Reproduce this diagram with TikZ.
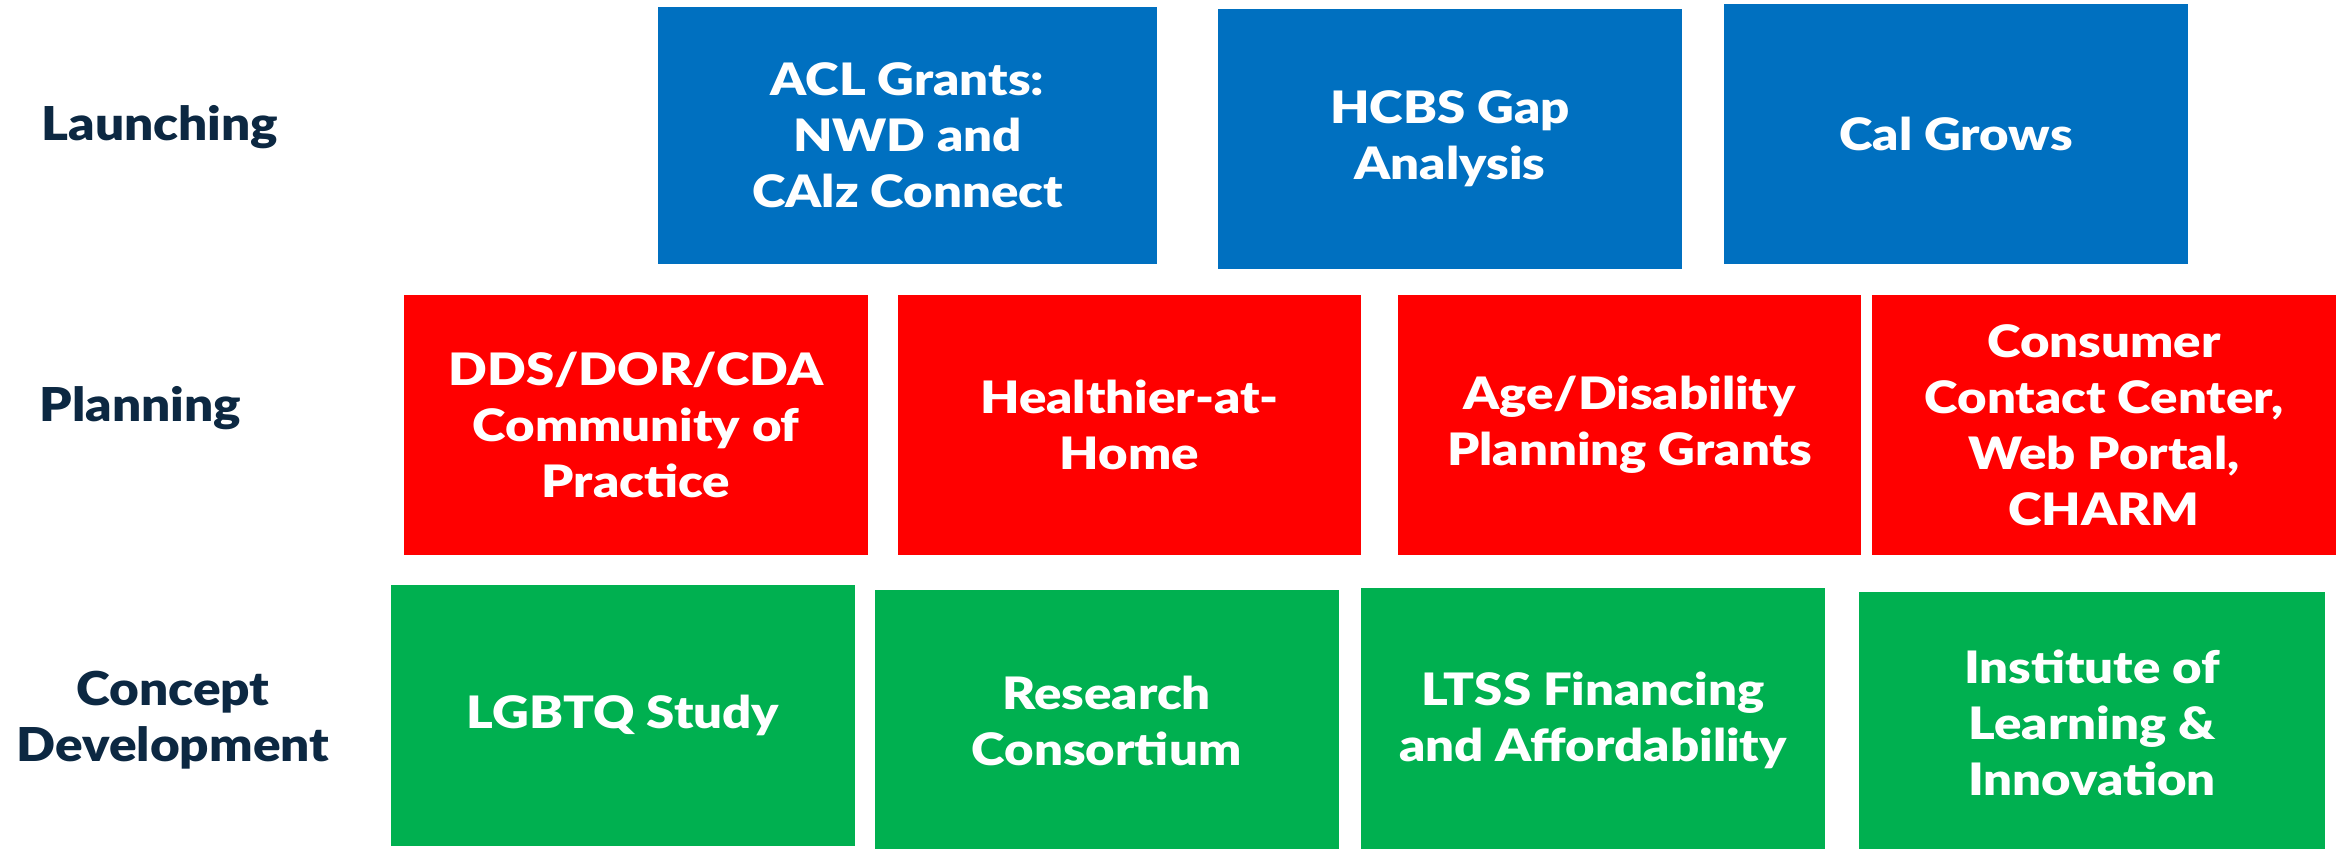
\documentclass[tikz,border=0pt]{standalone}
\usepackage{fontspec}
\setmainfont{Lato}
\IfFontExistsTF{Lato Black}{%
	\newfontfamily\cardfont{Lato Black}[FakeStretch=1.14]
	\newfontfamily\stagefont{Lato Black}[FakeStretch=1.1]
}{%
	\newfontfamily\cardfont{Lato}[FakeStretch=1.16,FakeBold=1.2]
	\newfontfamily\stagefont{Lato}[FakeStretch=1.12,FakeBold=1.2]
}

\definecolor{cardblue}{RGB}{0,112,192}
\definecolor{cardred}{RGB}{255,0,0}
\definecolor{cardgreen}{RGB}{0,176,80}
\definecolor{stagenavy}{RGB}{12,40,66}

\tikzset{every picture/.style={line width=0.75pt}}
\tikzset{
	card/.style={draw=none, inner sep=0pt, align=center, text=white,
		minimum width=348pt, minimum height=195pt,
		font=\fontsize{33.5}{42}\cardfont},
	bluecard/.style={card, fill=cardblue},
	redcard/.style={card, fill=cardred},
	greencard/.style={card, fill=cardgreen},
	stage/.style={inner sep=0pt, text=stagenavy, align=center,
		font=\fontsize{35}{42.5}\stagefont}
}

\begin{document}
\begin{tikzpicture}[x=0.75pt,y=0.75pt,yscale=-1,xscale=1]
	%set diagram left start at 0, and has height of 849
	\useasboundingbox (0,0) rectangle (2344,849);
	
	%Stages
	\node [stage, anchor=base west] (launching) at (41,140) {Launching};
	\node [stage, anchor=base west] (planning) at (39,421) {Planning};
	\node [stage] (concept) at (173,720) {Concept\\Development};
	
	%Launching row
	\node [bluecard, minimum width=374.25pt, minimum height=192.75pt] (acl) at (907.5,135.5) {ACL Grants:\\NWD and\\CAlz Connect};
	\node [bluecard] (hcbs) at (1450,139) {HCBS Gap\\Analysis};
	\node [bluecard] (calgrows) at (1956,134) {Cal Grows};
	
	%Planning row
	\node [redcard] (dds) at (636,425) {DDS/DOR/CDA\\Community of\\Practice};
	\node [redcard, minimum width=347.25pt] (healthier) at (1129.5,425) {Healthier-at-\\Home};
	\node [redcard, minimum width=347.25pt] (agegrants) at (1629.5,425) {Age/Disability\\Planning Grants};
	\node [redcard] (consumer) at (2104,425) {Consumer\\Contact Center,\\Web Portal,\\CHARM};
	
	%Concept development row
	\node [greencard, minimum height=195.75pt] (lgbtq) at (623,715.5) {LGBTQ Study};
	\node [greencard, minimum height=196.5pt] (research) at (1106.5,721) {Research\\Consortium};
	\node [greencard, minimum height=198pt] (ltss) at (1593,720) {LTSS Financing\\and Affordability};
	\node [greencard, minimum width=349.5pt, minimum height=196.5pt] (institute) at (2092,723) {Institute of\\Learning \&\\Innovation};
	
\end{tikzpicture}
\end{document}
